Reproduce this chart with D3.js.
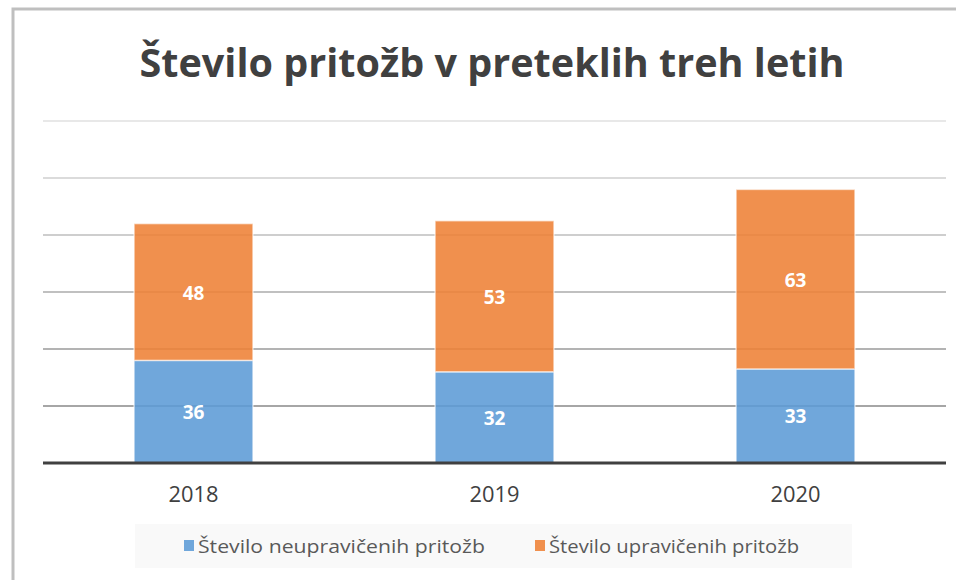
<!DOCTYPE html>
<html>
<head>
<meta charset="utf-8">
<script src="https://cdn.jsdelivr.net/npm/d3@7"></script>
<style>
  body { margin: 0; background: #fff; }
  svg { display: block; }
</style>
</head>
<body>
<div id="chart"></div>
<script>
// data
const years = ["2018", "2019", "2020"];
const neupraviceni = [36, 32, 33];
const upraviceni = [48, 53, 63];
const seriesNames = ["Število neupravičenih pritožb", "Število upravičenih pritožb"];
const yTicks = [0, 20, 40, 60, 80, 100, 120];

const W = 956, H = 580;
const svg = d3.select("#chart").append("svg").attr("width", W).attr("height", H);

// chart frame
svg.append("rect")
  .attr("x", 13).attr("y", 9).attr("width", 960).attr("height", 600)
  .attr("fill", "#fff").attr("stroke", "#bfbfbf").attr("stroke-width", 3);

// title
svg.append("text")
  .attr("x", 492).attr("y", 77)
  .attr("text-anchor", "middle")
  .attr("font-family", "Open Sans, sans-serif")
  .attr("font-weight", "bold")
  .attr("font-size", 40)
  .attr("fill", "#404040")
  .attr("textLength", 705).attr("lengthAdjust", "spacingAndGlyphs")
  .text("Število pritožb v preteklih treh letih");

const x = d3.scaleBand().domain(years).range([43, 946]).paddingInner(0.605).paddingOuter(0.3025);
const y = d3.scaleLinear().domain([0, 120]).range([463, 121]);

// gridlines, lighter toward the top
const gridColor = d3.scaleLinear().domain([20, 120]).range(["#a6a6a6", "#e8e8e8"]);
svg.append("g").selectAll("line")
  .data(yTicks.filter(d => d > 0))
  .join("line")
  .attr("x1", 43).attr("x2", 946)
  .attr("y1", d => y(d)).attr("y2", d => y(d))
  .attr("stroke", d => gridColor(d))
  .attr("stroke-width", 2);

// stacked bars (slightly transparent so gridlines show through)
const rows = years.map((yr, i) => ({ year: yr, a: neupraviceni[i], b: upraviceni[i] }));
const stack = d3.stack().keys(["a", "b"])(rows);
const colors = ["#5c9bd6", "#ee8136"];
const legendColors = ["#70a7db", "#f0904e"];

const layers = svg.append("g").selectAll("g")
  .data(stack)
  .join("g")
  .attr("fill", (d, i) => colors[i]);

layers.selectAll("rect")
  .data(d => d)
  .join("rect")
  .attr("x", d => x(d.data.year))
  .attr("width", x.bandwidth())
  .attr("y", d => y(d[1]))
  .attr("height", d => y(d[0]) - y(d[1]))
  .attr("fill-opacity", 0.88)
  .attr("stroke", "#ffffff")
  .attr("stroke-opacity", 0.6)
  .attr("stroke-width", 1.5);

layers.selectAll("text")
  .data(d => d)
  .join("text")
  .attr("x", d => x(d.data.year) + x.bandwidth() / 2)
  .attr("y", d => (y(d[0]) + y(d[1])) / 2 + 7.5)
  .attr("text-anchor", "middle")
  .attr("font-family", "Open Sans, sans-serif")
  .attr("font-weight", "bold")
  .attr("font-size", 19)
  .attr("fill", "#fff")
  .text(d => d[1] - d[0]);

// x axis
const xAxis = svg.append("g")
  .attr("transform", `translate(0,${y(0)})`)
  .call(d3.axisBottom(x).tickSize(0).tickPadding(22));
xAxis.select(".domain").attr("stroke", "#404040").attr("stroke-width", 3)
  .attr("d", "M43,0H946");
xAxis.selectAll("text")
  .attr("dy", null)
  .attr("y", 39)
  .attr("font-family", "Open Sans, sans-serif")
  .attr("font-size", 22)
  .attr("fill", "#404040")
  .attr("textLength", 50).attr("lengthAdjust", "spacingAndGlyphs");

// legend
svg.append("rect")
  .attr("x", 135).attr("y", 524).attr("width", 717).attr("height", 44)
  .attr("fill", "#f9f9f9");

const legendX = [184, 535];
const legend = svg.append("g").selectAll("g")
  .data(seriesNames)
  .join("g")
  .attr("transform", (d, i) => `translate(${legendX[i]},546)`);
legend.append("rect")
  .attr("x", 0).attr("y", -6).attr("width", 10).attr("height", 11)
  .attr("fill", (d, i) => legendColors[i]);
legend.append("text")
  .attr("x", 14).attr("y", 7)
  .attr("font-family", "Open Sans, sans-serif")
  .attr("font-size", 19)
  .attr("fill", "#595959")
  .attr("textLength", (d, i) => i === 0 ? 287 : 250)
  .attr("lengthAdjust", "spacingAndGlyphs")
  .text(d => d);
</script>
</body>
</html>
